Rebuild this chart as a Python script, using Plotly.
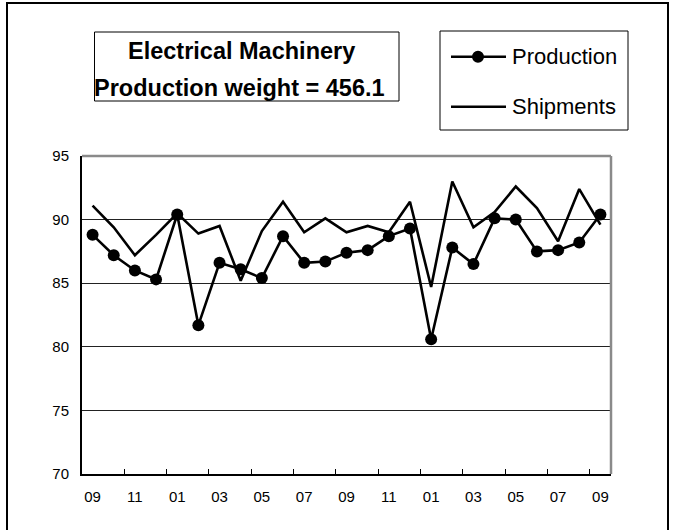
import plotly.graph_objects as go

month_labels = ["09", "10", "11", "12", "01", "02", "03", "04", "05", "06", "07", "08",
                "09", "10", "11", "12", "01", "02", "03", "04", "05", "06", "07", "08", "09"]
production = [88.8, 87.2, 86.0, 85.3, 90.4, 81.7, 86.6, 86.1, 85.4, 88.7, 86.6, 86.7, 87.4,
              87.6, 88.7, 89.3, 80.6, 87.8, 86.5, 90.1, 90.0, 87.5, 87.6, 88.2, 90.4]
shipments = [91.1, 89.4, 87.2, 88.8, 90.5, 88.9, 89.5, 85.2, 89.1, 91.4, 89.0, 90.1, 89.0,
             89.5, 89.0, 91.4, 84.7, 93.0, 89.4, 90.6, 92.6, 90.9, 88.3, 92.4, 89.6]
title_lines = ["Electrical Machinery", "Production weight = 456.1"]
y_ticks = [70, 75, 80, 85, 90, 95]

W, H = 675, 530
ML, MR, MT, MB = 82, 64, 156, 56
PW, PH = W - ML - MR, H - MT - MB

def px(x):
    return (x - ML) / PW

def py(y):
    return (H - MB - y) / PH

FONT = "Liberation Sans Narrow, Arial Narrow, Liberation Sans, Arial, sans-serif"
FONT_W = "Liberation Sans, Arial, sans-serif"

idx = list(range(len(month_labels)))

fig = go.Figure()
fig.add_trace(go.Scatter(x=idx, y=shipments, mode="lines", name="Shipments",
                         line=dict(color="black", width=2.6), showlegend=False))
fig.add_trace(go.Scatter(x=idx, y=production, mode="lines+markers", name="Production",
                         line=dict(color="black", width=2.6),
                         marker=dict(size=12, color="black"), showlegend=False))
# invisible trace to anchor tick-mark axis
fig.add_trace(go.Scatter(x=[idx[0]], y=[production[0]], xaxis="x2", mode="markers",
                         marker=dict(opacity=0), showlegend=False, hoverinfo="skip"))

label_pos = idx[::2]
label_txt = month_labels[::2]
boundary_ticks = [i + 1.5 for i in idx[::2][:-1]]

fig.update_layout(
    width=W, height=H,
    margin=dict(l=ML, r=MR, t=MT, b=MB),
    paper_bgcolor="white", plot_bgcolor="white",
    font=dict(family=FONT, color="black"),
    xaxis=dict(range=[-0.5, len(idx) - 0.5], tickvals=label_pos, ticktext=label_txt,
               ticks="", showgrid=False, zeroline=False, showline=True,
               linecolor="black", linewidth=2, tickfont=dict(size=15, family=FONT),
               ticklabelstandoff=8),
    xaxis2=dict(range=[-0.5, len(idx) - 0.5], overlaying="x", anchor="y", side="bottom",
                tickvals=boundary_ticks, ticks="inside", ticklen=5, tickwidth=1,
                tickcolor="black", showticklabels=False, showgrid=False,
                zeroline=False, showline=False),
    yaxis=dict(range=[70, 95], tickvals=y_ticks, ticks="", showgrid=True,
               gridcolor="#222222", gridwidth=1.2, zeroline=False, showline=True,
               linecolor="black", linewidth=2, tickfont=dict(size=15, family=FONT),
               ticklabelstandoff=8),
)

shapes = []
# gray top/right frame
shapes.append(dict(type="line", xref="paper", yref="paper", x0=0, x1=1, y0=1, y1=1,
                   line=dict(color="#8a8a8a", width=2.5)))
shapes.append(dict(type="line", xref="paper", yref="paper", x0=1, x1=1, y0=0, y1=1,
                   line=dict(color="#8a8a8a", width=2.5)))
# outer border
shapes.append(dict(type="rect", xref="paper", yref="paper", x0=px(7), x1=px(668),
                   y0=py(540), y1=py(3), line=dict(color="black", width=2)))
# title box
shapes.append(dict(type="rect", xref="paper", yref="paper", x0=px(94.5), x1=px(399),
                   y0=py(101), y1=py(32), line=dict(color="black", width=1)))
# legend box
shapes.append(dict(type="rect", xref="paper", yref="paper", x0=px(440), x1=px(628),
                   y0=py(130), y1=py(31), line=dict(color="black", width=1)))
# legend samples
shapes.append(dict(type="line", xref="paper", yref="paper", x0=px(451), x1=px(506),
                   y0=py(56.7), y1=py(56.7), line=dict(color="black", width=2.6)))
shapes.append(dict(type="circle", xref="paper", yref="paper", xsizemode="pixel",
                   ysizemode="pixel", xanchor=px(478), yanchor=py(56.7),
                   x0=-6, x1=6, y0=-6, y1=6, fillcolor="black",
                   line=dict(color="black", width=0)))
shapes.append(dict(type="line", xref="paper", yref="paper", x0=px(451), x1=px(506),
                   y0=py(106.7), y1=py(106.7), line=dict(color="black", width=2.6)))
fig.update_layout(shapes=shapes)

ann = []
ann.append(dict(text=title_lines[0], xref="paper", yref="paper", x=px(241), y=py(51),
                xanchor="center", yanchor="middle", showarrow=False,
                font=dict(size=23.5, family=FONT_W, color="black", weight="bold")))
ann.append(dict(text=title_lines[1], xref="paper", yref="paper", x=px(239), y=py(87.5),
                xanchor="center", yanchor="middle", showarrow=False,
                font=dict(size=23.5, family=FONT_W, color="black", weight="bold")))
ann.append(dict(text="Production", xref="paper", yref="paper", x=px(510), y=py(57),
                xanchor="left", yanchor="middle", showarrow=False,
                font=dict(size=22, family=FONT_W, color="black")))
ann.append(dict(text="Shipments", xref="paper", yref="paper", x=px(510), y=py(107),
                xanchor="left", yanchor="middle", showarrow=False,
                font=dict(size=22, family=FONT_W, color="black")))
fig.update_layout(annotations=ann)

fig.write_html("out.html", config={"displayModeBar": False},
               post_script="document.body.style.margin='0';document.body.style.overflow='hidden';")
